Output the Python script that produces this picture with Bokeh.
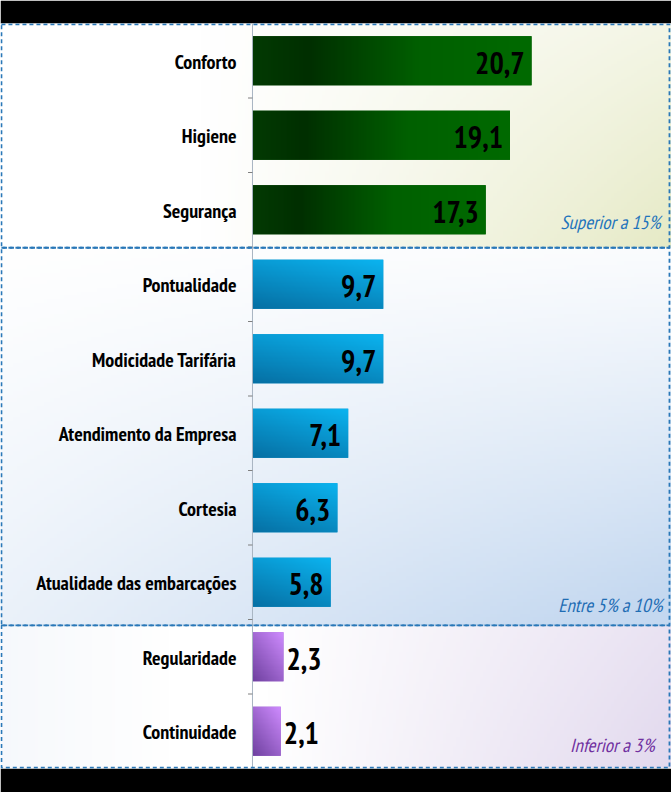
import numpy as np
from bokeh.plotting import figure
from bokeh.models import Range1d, ColumnDataSource
from bokeh.core.properties import value
from bokeh.embed import file_html
from bokeh.resources import INLINE

# ---------------- data ----------------
categories = ["Conforto", "Higiene", "Segurança", "Pontualidade", "Modicidade Tarifária",
              "Atendimento da Empresa", "Cortesia", "Atualidade das embarcações",
              "Regularidade", "Continuidade"]
values = [20.7, 19.1, 17.3, 9.7, 9.7, 7.1, 6.3, 5.8, 2.3, 2.1]
labels = ["20,7", "19,1", "17,3", "9,7", "9,7", "7,1", "6,3", "5,8", "2,3", "2,1"]
groups = ["alto", "alto", "alto", "medio", "medio", "medio", "medio", "medio", "baixo", "baixo"]
group_titles = {"alto": "Superior a 15%", "medio": "Entre 5% a 10%", "baixo": "Inferior a 3%"}

# ---------------- layout ----------------
W, H = 671, 792
TOP, BOTTOM = 23, 24
X0, X1 = -18.69, 31.08
n = len(categories)
ys = [n - i - 0.5 for i in range(n)]
BAR_H = 0.66

NARROW = "'PT Sans Narrow', 'Roboto Condensed', sans-serif"

p = figure(width=W, height=H, output_backend="svg", toolbar_location=None,
           x_range=Range1d(X0, X1), y_range=Range1d(0, 10),
           min_border_left=0, min_border_right=0, min_border_top=TOP, min_border_bottom=BOTTOM)
p.border_fill_color = "black"
p.background_fill_color = "white"
p.outline_line_color = None
p.axis.visible = False
p.grid.visible = False


def hexrgb(h):
    h = h.lstrip("#")
    return np.array([int(h[i:i + 2], 16) for i in (0, 2, 4)], dtype=float)


def make_img(nx, ny, func):
    u = np.linspace(0, 1, nx)[None, :].repeat(ny, 0)
    v = np.linspace(0, 1, ny)[:, None].repeat(nx, 1)
    rgb = func(u, v)
    img = np.empty((ny, nx), dtype=np.uint32)
    view = img.view(dtype=np.uint8).reshape((ny, nx, 4))
    view[..., 0] = np.clip(rgb[..., 0], 0, 255)
    view[..., 1] = np.clip(rgb[..., 1], 0, 255)
    view[..., 2] = np.clip(rgb[..., 2], 0, 255)
    view[..., 3] = 255
    return img


def mix(c0, c1, s):
    s = np.clip(s, 0, 1)[..., None]
    return c0[None, None, :] * (1 - s) + c1[None, None, :] * s


WHITE = hexrgb("#ffffff")

# panel extents (data y)
panels = {"alto": (6.99, 9.99), "medio": (1.92, 6.99), "baixo": (0.01, 1.92)}


def bg_alto(u, v):
    s = np.clip((u - 0.3) / 0.7, 0, 1) ** 1.1 * (0.45 + 0.55 * (1 - v))
    return mix(WHITE, hexrgb("#e6eac6"), s)


def bg_medio(u, v):
    s = (1 - v) ** 1.1 * (0.35 + 0.65 * u) + 0.08 * u
    return mix(WHITE, hexrgb("#c4d8f0"), s)


def bg_baixo(u, v):
    s = np.clip((u - 0.4) / 0.6, 0, 1) * (0.75 + 0.25 * (1 - v))
    left = np.clip((0.25 - u) / 0.25, 0, 1) * 0.3
    c = mix(WHITE, hexrgb("#e2d9ee"), s)
    c2 = mix(WHITE, hexrgb("#e2eaf5"), left)
    return np.minimum(c, c2)


bgf = {"alto": bg_alto, "medio": bg_medio, "baixo": bg_baixo}
for g, (b, t) in panels.items():
    p.image_rgba(image=[make_img(200, 100, bgf[g])], x=X0, y=b, dw=X1 - X0, dh=t - b)


# ---------------- bars ----------------
def bar_green(u, v):
    c = np.empty(u.shape + (3,))
    stops_x = [0.0, 0.2, 0.6, 1.0]
    cols = [hexrgb("#033a03"), hexrgb("#002f00"), hexrgb("#006000"), hexrgb("#006a00")]
    for k in range(3):
        c[..., k] = np.interp(u, stops_x, [cc[k] for cc in cols])
    return c


def bar_blue(u, v):
    s = 0.65 * (1 - v) + 0.35 * (1 - u)
    return mix(hexrgb("#0bb4f0"), hexrgb("#0670a4"), s)


def bar_purple(u, v):
    s = 0.55 * (1 - v) + 0.45 * (1 - u)
    return mix(hexrgb("#cf8cff"), hexrgb("#6f41a0"), s)


barf = {"alto": bar_green, "medio": bar_blue, "baixo": bar_purple}
base_col = {"alto": "#005000", "medio": "#0090cc", "baixo": "#9a66cc"}

src = ColumnDataSource(dict(y=ys, right=values, color=[base_col[g] for g in groups],
                            cat=categories, lab=labels))
p.hbar(y="y", left=0, right="right", height=BAR_H, fill_color="color", line_color=None, source=src)

for yv, val, g in zip(ys, values, groups):
    p.image_rgba(image=[make_img(160, 40, barf[g])], x=0, y=yv - BAR_H / 2, dw=val, dh=BAR_H)

# ---------------- axis line & ticks ----------------
p.segment(x0=[0], y0=[0], x1=[0], y1=[10], line_color="#a8b4c2", line_width=1)
tick_y = list(range(1, n))
p.segment(x0=[0] * len(tick_y), y0=tick_y, x1=[-0.33] * len(tick_y), y1=tick_y,
          line_color="#7f7f7f", line_width=1)

# ---------------- panel borders ----------------
DASH = "4 3"
BCOL = "#2a78b8"
for g, (b, t) in panels.items():
    p.quad(left=[-18.62], right=[30.93], bottom=[b], top=[t], fill_color=None,
           line_color=BCOL, line_width=1.8, line_dash=DASH)

# ---------------- texts ----------------
p.text(x=0, y="y", text="cat", source=src, x_offset=-16, y_offset=1, text_align="right",
       text_baseline="middle", text_font=value(NARROW), text_font_style="bold",
       text_font_size="20px", text_color="black")

inside = [i for i, g in enumerate(groups) if g != "baixo"]
outside = [i for i, g in enumerate(groups) if g == "baixo"]
p.text(x=[values[i] for i in inside], y=[ys[i] for i in inside], text=[labels[i] for i in inside],
       x_offset=-7, y_offset=2, text_align="right", text_baseline="middle",
       text_font=value(NARROW), text_font_style="bold", text_font_size="30px", text_color="black")
p.text(x=[values[i] for i in outside], y=[ys[i] for i in outside], text=[labels[i] for i in outside],
       x_offset=3, y_offset=2, text_align="left", text_baseline="middle",
       text_font=value(NARROW), text_font_style="bold", text_font_size="30px", text_color="black")

title_pos = {"alto": (30.27, 7.33, "#1f74bc"), "medio": (30.42, 2.2, "#1f6db4"), "baixo": (29.82, 0.31, "#7030a0")}
for g, (tx, ty, tc) in title_pos.items():
    p.text(x=[tx], y=[ty], text=[group_titles[g]], text_align="right", text_baseline="middle",
           text_font=value(NARROW), text_font_style="italic", text_font_size="19px", text_color=tc)

open("out.html", "w").write(file_html(p, INLINE))
